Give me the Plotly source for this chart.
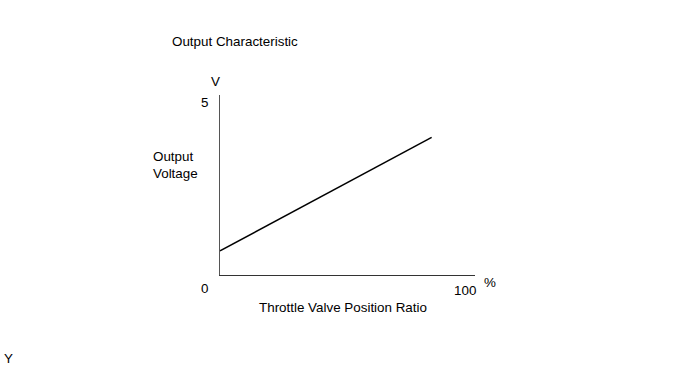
import plotly.graph_objects as go

# Data
ratio_pct = [0, 83]          # throttle valve position ratio (%)
voltage_v = [0.70, 4.0]      # output voltage (V)
x_range = [0, 100]
y_range = [0, 5.23]
x_tick_labels = ["0", "100"]
y_tick_labels = ["5"]

W, H = 690, 367
L, R, T, B = 220, 475, 95, 275  # plot area in pixels

def px(x):
    return (x - L) / (R - L)

def py(y):
    return (B - y) / (B - T)

FONT = dict(family="Liberation Sans, Arial, sans-serif", size=13.4, color="#000")

fig = go.Figure()
fig.add_trace(go.Scatter(x=ratio_pct, y=voltage_v, mode="lines",
                         line=dict(color="#000", width=1.5), showlegend=False,
                         hoverinfo="skip"))

ann = [
    dict(text="Output Characteristic", x=px(234.5), y=py(42)),
    dict(text="V", x=px(215), y=py(81)),
    dict(text=y_tick_labels[0], x=px(204), y=py(103)),
    dict(text="Output<br>Voltage", x=px(151), y=py(165), xanchor="left", align="left"),
    dict(text=x_tick_labels[0], x=px(204), y=py(288)),
    dict(text=x_tick_labels[1], x=px(465), y=py(290)),
    dict(text="%", x=px(490), y=py(282)),
    dict(text="Throttle Valve Position Ratio", x=px(343), y=py(307)),
    dict(text="Y", x=px(8), y=py(358)),
]
annotations = []
for a in ann:
    d = dict(xref="paper", yref="paper", showarrow=False, font=FONT,
             xanchor="center", yanchor="middle")
    d.update(a)
    annotations.append(d)

fig.update_layout(
    width=W, height=H,
    margin=dict(l=L, r=W - R, t=T, b=H - B, pad=0),
    paper_bgcolor="white", plot_bgcolor="white",
    annotations=annotations,
    hovermode=False,
    xaxis=dict(range=x_range, showline=True, linecolor="#333", linewidth=1,
               showgrid=False, zeroline=False, showticklabels=False, ticks="",
               fixedrange=True),
    yaxis=dict(range=y_range, showline=True, linecolor="#555", linewidth=1,
               showgrid=False, zeroline=False, showticklabels=False, ticks="",
               fixedrange=True),
)

fig.write_html("out.html",
               config={"displayModeBar": False, "staticPlot": True},
               post_script="document.body.style.margin='0';document.body.style.padding='0';")
